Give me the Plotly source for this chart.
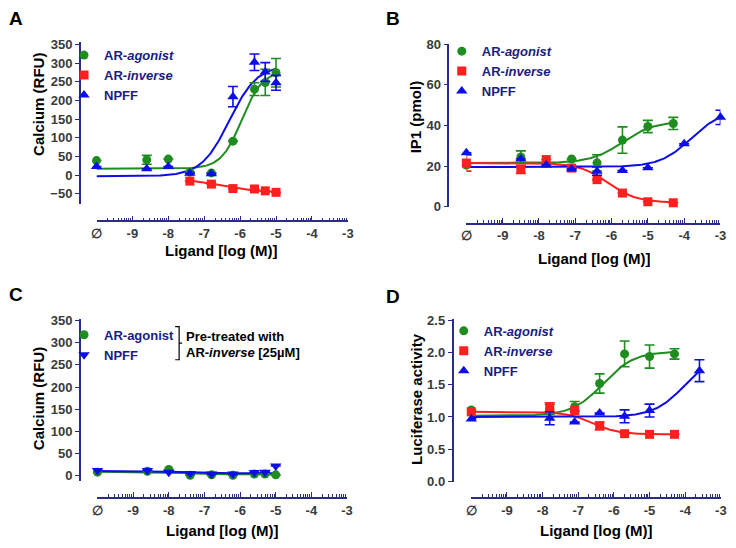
import numpy as np
import plotly.graph_objects as go

W, H = 736, 548

# ---------------- data ----------------
# Panel A - Calcium (RFU)
A_x = [-10, -8.6, -8.0, -7.4, -6.8, -6.2, -5.6, -5.3, -5.0]
A_agonist = [39, 41, 43, 8, 6, 91, 230, 248, 274]
A_agonist_err = [0, 12, 0, 0, 0, 0, 17, 35, 38]
A_npff = [23, 17, 23, 5, 4, 210, 302, 276, 247]
A_npff_err = [0, 0, 0, 0, 0, 27, 22, 25, 20]
A_inv_x = [-7.4, -6.8, -6.2, -5.6, -5.3, -5.0]
A_inverse = [-16, -24, -36, -37, -42, -46]
A_inverse_err = [0, 0, 0, 0, 0, 0]

# Panel B - IP1 (pmol)
B_ag_x = [-10, -8.5, -7.1, -6.4, -5.7, -5.0, -4.3]
B_agonist = [20.5, 24.5, 23.5, 21.6, 32.8, 39.5, 41]
B_agonist_err = [0, 3, 0, 4, 6.5, 3, 3]
B_inv_x = [-10, -8.5, -7.8, -7.1, -6.4, -5.7, -5.0, -4.3]
B_inverse = [21.5, 18.4, 23.2, 19, 13.3, 6.7, 2.4, 1.9]
B_inverse_err = [4, 2, 0, 0, 0, 0, 0, 0]
B_npff_x = [-10, -8.5, -7.8, -7.1, -6.4, -5.7, -5.0, -4.0, -3.0]
B_npff = [26.5, 23.5, 20.5, 18.5, 17.5, 17.8, 19.2, 31, 44]
B_npff_err = [0, 0, 0, 0, 2, 0, 0, 0, 3.5]

# Panel C - Calcium (RFU), pre-treated with AR-inverse
C_x = [-10, -8.6, -8.0, -7.4, -6.8, -6.2, -5.6, -5.3, -5.0]
C_agonist = [8, 10, 14, 1, 2, 1, 4, 4, 2]
C_npff = [12, 12, 8, 5, 4, 4, 7, 8, 22]

# Panel D - Luciferase activity
D_x = [-10, -7.8, -7.1, -6.4, -5.7, -5.0, -4.3]
D_agonist = [1.11, 1.12, 1.16, 1.52, 1.98, 1.94, 1.98]
D_agonist_err = [0, 0.08, 0.08, 0.15, 0.2, 0.18, 0.08]
D_inverse = [1.08, 1.14, 1.10, 0.86, 0.74, 0.73, 0.73]
D_inverse_err = [0, 0.08, 0, 0.06, 0, 0, 0]
D_npff_x = [-10, -7.8, -7.1, -6.4, -5.7, -5.0, -3.6]
D_npff = [0.97, 0.98, 0.92, 1.06, 1.01, 1.10, 1.72]
D_npff_err = [0, 0.1, 0, 0, 0.1, 0.1, 0.17]

# fitted sigmoid parameters (bottom, top, logEC50, hill)
A_agonist_fit = (17, 280, -5.95, 1.5)
A_npff_fit = (-3, 295, -6.3, 1.12)
A_inverse_fit = (-48, -5, -6.6, 0.7)
B_agonist_fit = (21.5, 42, -5.7, 1.0)
B_inverse_fit = (2, 21.5, -6.1, 1.1)
B_npff_fit = (19.5, 48, -3.8, 1.0)
C_agonist_fit = (3, 9, -7.6, 1.0)
C_npff_fit = (5.5, 10.5, -7.7, 1.0)
D_agonist_fit = (1.02, 2.02, -6.3, 1.0)
D_inverse_fit = (0.73, 1.08, -6.6, 1.2)
D_npff_fit = (1.0, 2.0, -4.0, 1.0)

x_tickvals = [-10, -9, -8, -7, -6, -5, -4, -3]
x_ticktext = ["\u2205", "-9", "-8", "-7", "-6", "-5", "-4", "-3"]

# ---------------- styles ----------------
GREEN = "#1e8c1e"
RED = "#ff1f1f"
BLUE = "#0d0de8"
NAVY = "#2b2b8a"
LEGC = "#1c1c7e"
TICKC = "#3a3a3a"
FONT = "Liberation Sans"


def px(x):
    return x / W


def py(y):
    return 1 - y / H


def curve(xs, fit, rising=True):
    b, t, c, h = fit
    g = np.linspace(min(xs), max(xs), 200)
    if rising:
        y = b + (t - b) / (1 + 10 ** ((c - g) * h))
    else:
        y = b + (t - b) / (1 + 10 ** ((g - c) * h))
    return g, y


fig = go.Figure()

# panel geometry (pixels)
panels = {
    "1": dict(xd=(92, 347.5), xpos=220, ypos=75, yd=(36, 201.7), yr=[-76, 356], dt=50, fmt=None),
    "2": dict(xd=(468, 726.3), xpos=222.7, ypos=449.7, yd=(38.3, 205.5), yr=[-0.3, 80], dt=20, fmt=None),
    "3": dict(xd=(93, 346.7), xpos=504, ypos=75, yd=(320, 486.7), yr=[-12.5, 353.7], dt=50, fmt=None),
    "4": dict(xd=(473, 726.7), xpos=504, ypos=454, yd=(320, 487.5), yr=[-0.012, 2.526], dt=0.5, fmt=".1f"),
}

minor_vals = [d + np.log10(k) for d in range(-10, -3) for k in range(2, 10)]

layout = {}
for k, p in panels.items():
    xa = "xaxis" if k == "1" else f"xaxis{k}"
    ya = "yaxis" if k == "1" else f"yaxis{k}"
    layout[xa] = dict(
        domain=[px(p["xd"][0]), px(p["xd"][1])], range=[-10, -3], anchor="free",
        position=py(p["xpos"]), showline=True, linecolor=NAVY, linewidth=1.6,
        showgrid=False, zeroline=False, ticks="inside", ticklen=5, tickwidth=1.3,
        tickcolor=NAVY, tickmode="array", tickvals=x_tickvals, ticktext=x_ticktext,
        tickfont=dict(family=FONT, size=13, color=TICKC, weight="bold"),
        minor=dict(tickmode="array", tickvals=minor_vals, ticks="inside", ticklen=3,
                   tickwidth=1, tickcolor=NAVY),
        fixedrange=True,
    )
    layout[ya] = dict(
        domain=[py(p["yd"][1]), py(p["yd"][0])], range=p["yr"], anchor="free",
        position=px(p["ypos"]), showline=True, linecolor=NAVY, linewidth=1.6,
        showgrid=False, zeroline=False, ticks="outside", ticklen=4, tickwidth=1.3,
        tickcolor=NAVY, dtick=p["dt"], tick0=0, tickformat=p["fmt"],
        tickfont=dict(family=FONT, size=13, color=TICKC, weight="bold"),
        fixedrange=True,
    )


def add_curve(xs, fit, color, sub, rising=True):
    g, y = curve(xs, fit, rising)
    fig.add_trace(go.Scatter(x=g, y=y, mode="lines", line=dict(color=color, width=2),
                             showlegend=False, hoverinfo="skip",
                             xaxis="x" if sub == "1" else "x" + sub,
                             yaxis="y" if sub == "1" else "y" + sub))


def add_pts(xs, ys, err, color, symbol, name, sub, size=9):
    leg = "legend" if sub == "1" else "legend" + sub
    fig.add_trace(go.Scatter(
        x=xs, y=ys, mode="markers", name=name, legend=leg,
        marker=dict(color=color, symbol=symbol, size=size, line=dict(width=0)),
        error_y=dict(type="data", array=err, visible=True, color=color, thickness=1.6, width=5),
        cliponaxis=False,
        xaxis="x" if sub == "1" else "x" + sub,
        yaxis="y" if sub == "1" else "y" + sub))


AG = "<b>AR-<i>agonist</i></b>"
INV = "<b>AR-<i>inverse</i></b>"
NP = "<b>NPFF</b>"

# Panel A
add_curve(A_x, A_agonist_fit, GREEN, "1")
add_curve(A_inv_x, A_inverse_fit, RED, "1", rising=False)
add_curve(A_x, A_npff_fit, BLUE, "1")
add_pts(A_x, A_agonist, A_agonist_err, GREEN, "circle", AG, "1")
add_pts(A_inv_x, A_inverse, A_inverse_err, RED, "square", INV, "1")
add_pts(A_x, A_npff, A_npff_err, BLUE, "triangle-up", NP, "1", size=10)

# Panel B
add_curve(B_ag_x, B_agonist_fit, GREEN, "2")
add_curve(B_inv_x, B_inverse_fit, RED, "2", rising=False)
add_curve(B_npff_x, B_npff_fit, BLUE, "2")
add_pts(B_ag_x, B_agonist, B_agonist_err, GREEN, "circle", AG, "2")
add_pts(B_inv_x, B_inverse, B_inverse_err, RED, "square", INV, "2")
add_pts(B_npff_x, B_npff, B_npff_err, BLUE, "triangle-up", NP, "2", size=10)

# Panel C
add_curve(C_x, C_agonist_fit, GREEN, "3", rising=False)
add_curve(C_x, C_npff_fit, BLUE, "3", rising=False)
add_pts(C_x, C_agonist, [0] * len(C_x), GREEN, "circle", "<b>AR-agonist</b>", "3")
add_pts(C_x, C_npff, [0] * len(C_x), BLUE, "triangle-down", NP, "3", size=10)

# Panel D
add_curve(D_x, D_agonist_fit, GREEN, "4")
add_curve(D_x, D_inverse_fit, RED, "4", rising=False)
add_curve(D_npff_x, D_npff_fit, BLUE, "4")
add_pts(D_x, D_agonist, D_agonist_err, GREEN, "circle", AG, "4")
add_pts(D_x, D_inverse, D_inverse_err, RED, "square", INV, "4")
add_pts(D_npff_x, D_npff, D_npff_err, BLUE, "triangle-up", NP, "4", size=10)

legfont = dict(family=FONT, size=13, color=LEGC)
legpos = {"legend": (59, 34), "legend2": (443, 30), "legend3": (59, 321), "legend4": (445, 317)}
for name, (lx, ly) in legpos.items():
    layout[name] = dict(x=px(lx), y=py(ly), xanchor="left", yanchor="top",
                        bgcolor="rgba(0,0,0,0)", font=legfont, tracegroupgap=0,
                        itemclick=False)


def note(text, x, y, size, angle=0, xanchor="center", color="black"):
    return dict(text=text, x=px(x), y=py(y), xref="paper", yref="paper",
                xanchor=xanchor, yanchor="middle", showarrow=False, textangle=angle,
                font=dict(family=FONT, size=size, color=color))


ann = []
for txt, x, y in [("A", 10, 12), ("B", 393, 12), ("C", 10, 295), ("D", 393, 297)]:
    ann.append(note(f"<b>{txt}</b>", x, y, 19))
for txt, x, y in [("Calcium (RFU)", 33, 100), ("IP1 (pmol)", 416, 113),
                  ("Calcium (RFU)", 33, 402), ("Luciferase activity", 418, 402)]:
    ann.append(note(f"<b>{txt}</b>", x, y, 15, angle=-90))
for x, y in [(219, 250), (598, 258), (220, 537), (600, 537)]:
    ann.append(note("<b>Ligand [log (M)]</b>", x, y, 15))
ann.append(note("<b>Pre-treated with</b>", 181, 338, 13, xanchor="left"))
ann.append(note("<b>AR-<i>inverse</i> [25\u00b5M]</b>", 181, 355, 13, xanchor="left"))

shapes = [dict(type="path", xref="paper", yref="paper",
               path=f"M {px(172)},{py(328)} L {px(176)},{py(328)} L {px(176)},{py(362)} L {px(172)},{py(362)} "
                    f"M {px(176)},{py(345)} L {px(179)},{py(345)}",
               line=dict(color="black", width=1.2))]

fig.update_layout(width=W, height=H, margin=dict(l=0, r=0, t=0, b=0),
                  paper_bgcolor="white", plot_bgcolor="white",
                  annotations=ann, shapes=shapes, **layout)

fig.write_html("out.html", config={"displayModeBar": False},
               post_script="document.body.style.margin='0px';")
